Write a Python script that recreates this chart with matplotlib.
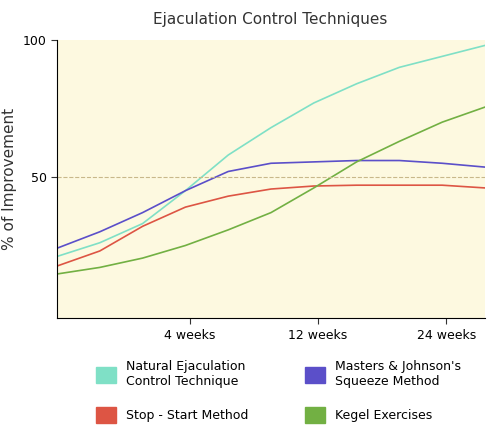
import matplotlib
matplotlib.use("Agg")
import matplotlib.pyplot as plt
from matplotlib.patches import Patch

x = [0, 0.1, 0.2, 0.3, 0.4, 0.5, 0.6, 0.7, 0.8, 0.9, 1.0]
natural = [21, 26, 33, 45, 58, 68, 77, 84, 90, 94, 98]
squeeze = [24, 30, 37, 45, 52, 55, 55.5, 56, 56, 55, 53.6]
stopstart = [17.5, 23, 32, 39, 43, 45.6, 46.7, 47, 47, 47, 46]
kegel = [14.6, 17, 20.4, 25, 30.7, 37, 46, 55.5, 63, 70, 75.5]
tick_pos = [0.31, 0.61, 0.91]
tick_labels = ["4 weeks", "12 weeks", "24 weeks"]
names = ["Natural Ejaculation\nControl Technique", "Masters & Johnson's\nSqueeze Method",
         "Stop - Start Method", "Kegel Exercises"]
colors = ["#7fe0c6", "#5b4fc9", "#dd5544", "#72b043"]

fig = plt.figure(figsize=(5, 4.34), dpi=100)
ax = fig.add_axes([0.114, 0.267, 0.856, 0.641])
ax.set_facecolor("#fdf9e0")
for s, c in zip([natural, squeeze, stopstart, kegel], colors):
    ax.plot(x, s, color=c, lw=1.2)
ax.axhline(50, color="#c8b88a", ls="--", lw=0.8)
ax.set_xlim(0, 1)
ax.set_ylim(-1.5, 100)
ax.set_yticks([50, 100])
ax.set_xticks(tick_pos)
ax.set_xticklabels(tick_labels)
ax.tick_params(labelsize=9, color="#333", length=4)
for sp in ["top", "right"]:
    ax.spines[sp].set_visible(False)
ax.set_ylabel("% of Improvement", fontsize=11, color="#333")
fig.text(0.54, 0.955, "Ejaculation Control Techniques", ha="center", va="center", fontsize=11, color="#333")

handles = [Patch(color=colors[i]) for i in [0, 2, 1, 3]]
labels = [names[i] for i in [0, 2, 1, 3]]
fig.legend(handles, labels, ncol=2, loc="lower left", bbox_to_anchor=(0.17, 0.0),
           frameon=False, fontsize=9, handlelength=1.6, handleheight=1.6,
           columnspacing=4.5, labelspacing=1.5)
fig.savefig("out.png")
